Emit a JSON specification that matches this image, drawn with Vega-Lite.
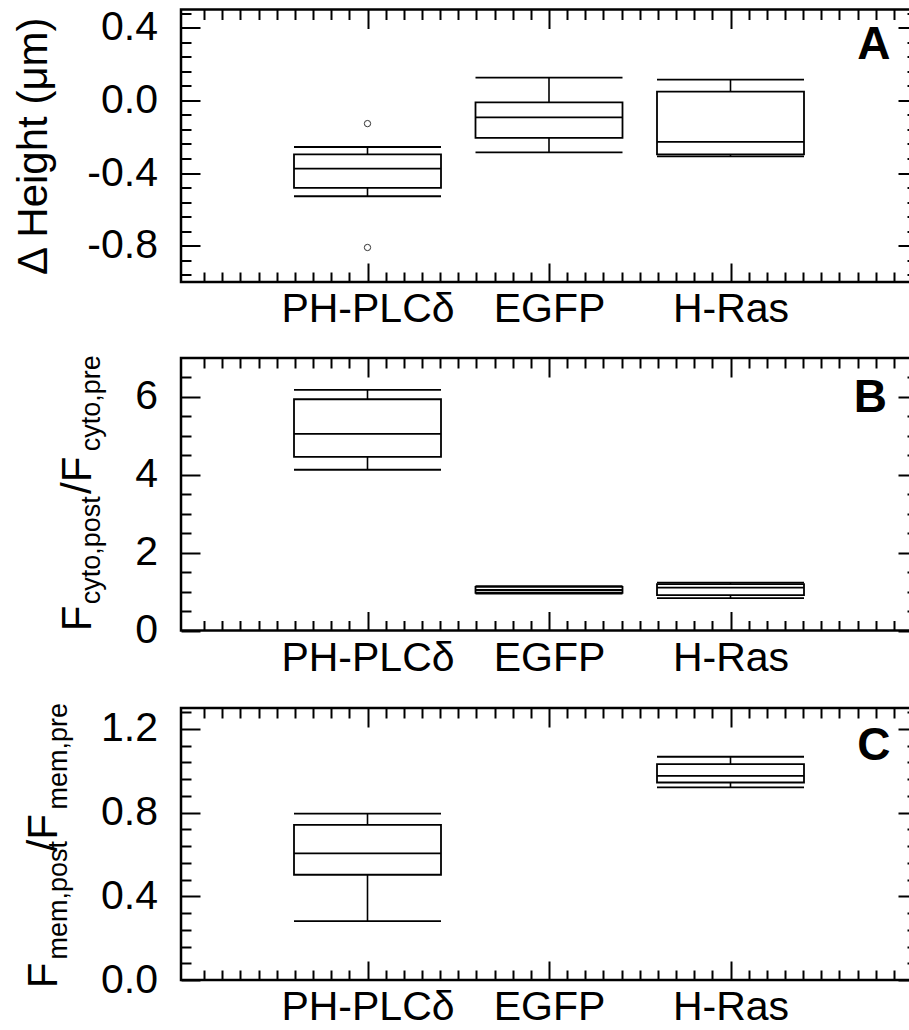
{
  "$schema": "https://vega.github.io/schema/vega-lite/v6.json",
  "background": "white",
  "padding": {"left": 10, "top": -9.5, "right": -7, "bottom": 0},
  "spacing": 12.5,
  "datasets": {
    "boxes": [
      {"panel": "A", "group": 1, "name": "PH-PLCδ", "lo": -0.528, "q1": -0.482, "med": -0.376, "q3": -0.297, "hi": -0.257},
      {"panel": "A", "group": 2, "name": "EGFP", "lo": -0.286, "q1": -0.207, "med": -0.094, "q3": -0.011, "hi": 0.125},
      {"panel": "A", "group": 3, "name": "H-Ras", "lo": -0.308, "q1": -0.297, "med": -0.229, "q3": 0.048, "hi": 0.114},
      {"panel": "B", "group": 1, "name": "PH-PLCδ", "lo": 4.13, "q1": 4.46, "med": 5.05, "q3": 5.94, "hi": 6.18},
      {"panel": "B", "group": 2, "name": "EGFP", "lo": 0.95, "q1": 0.97, "med": 1.04, "q3": 1.12, "hi": 1.14},
      {"panel": "B", "group": 3, "name": "H-Ras", "lo": 0.83, "q1": 0.91, "med": 1.1, "q3": 1.19, "hi": 1.23},
      {"panel": "C", "group": 1, "name": "PH-PLCδ", "lo": 0.281, "q1": 0.503, "med": 0.605, "q3": 0.741, "hi": 0.795},
      {"panel": "C", "group": 3, "name": "H-Ras", "lo": 0.921, "q1": 0.944, "med": 0.976, "q3": 1.032, "hi": 1.067}
    ],
    "outliers": [
      {"panel": "A", "group": 1, "value": -0.128},
      {"panel": "A", "group": 1, "value": -0.81}
    ]
  },
  "vconcat": [
    {
      "width": 736, "height": 272.5,
      "layer": [
        {
          "data": {"name": "boxes"}, "transform": [{"filter": "datum.panel === 'A'"}],
          "mark": {"type": "rule", "color": "black", "strokeWidth": 1.6},
          "encoding": {
            "x": {"field": "group", "type": "quantitative", "scale": {"domain": [0, 4], "nice": false, "zero": false},
              "axis": {"orient": "bottom", "values": [0.1,0.2,0.3,0.4,0.5,0.6,0.7,0.8,0.9,1,1.1,1.2,1.3,1.4,1.5,1.6,1.7,1.8,1.9,2,2.1,2.2,2.3,2.4,2.5,2.6,2.7,2.8,2.9,3,3.1,3.2,3.3,3.4,3.5,3.6,3.7,3.8,3.9],
                "tickSize": {"condition": {"test": "abs(datum.value - round(datum.value)) < 0.001", "value": -19}, "value": -10},
                "labelExpr": "datum.value == 1 ? 'PH-PLCδ' : datum.value == 2 ? 'EGFP' : datum.value == 3 ? 'H-Ras' : ''",
                "labelPadding": 26.5, "labelAngle": 0, "title": null}},
            "y": {"field": "lo", "type": "quantitative", "scale": {"domain": [-1, 0.5], "nice": false, "zero": false},
              "axis": {"orient": "left", "values": [-0.96,-0.88,-0.8,-0.72,-0.64,-0.56,-0.48,-0.4,-0.32,-0.24,-0.16,-0.08,0,0.08,0.16,0.24,0.32,0.4,0.48],
                "tickSize": {"condition": {"test": "abs(datum.value/0.4 - round(datum.value/0.4)) < 0.001", "value": -19}, "value": -10},
                "labelExpr": "abs(datum.value/0.4 - round(datum.value/0.4)) < 0.001 ? (datum.value < -0.001 ? '-' : '') + format(abs(datum.value), '.1f') : ''",
                "labelPadding": 42.5,
                "title": "Δ Height (μm)", "titleFontSize": 42, "titleAngle": 270, "titleX": -135, "titleBaseline": "alphabetic", "titleAlign": "center"}},
            "y2": {"field": "hi"}
          }
        },
        {
          "data": {"name": "boxes"}, "transform": [{"filter": "datum.panel === 'A'"}],
          "mark": {"type": "bar", "orient": "vertical", "size": 147, "fill": "white", "stroke": "black", "strokeWidth": 1.8},
          "encoding": {
            "x": {"field": "group", "type": "quantitative", "scale": {"domain": [0, 4], "nice": false, "zero": false},
              "axis": {"orient": "top", "values": [0.1,0.2,0.3,0.4,0.5,0.6,0.7,0.8,0.9,1,1.1,1.2,1.3,1.4,1.5,1.6,1.7,1.8,1.9,2,2.1,2.2,2.3,2.4,2.5,2.6,2.7,2.8,2.9,3,3.1,3.2,3.3,3.4,3.5,3.6,3.7,3.8,3.9],
                "tickSize": {"condition": {"test": "abs(datum.value - round(datum.value)) < 0.001", "value": -19}, "value": -10},
                "labels": false, "title": null}},
            "y": {"field": "q1", "type": "quantitative", "scale": {"domain": [-1, 0.5], "nice": false, "zero": false},
              "axis": {"orient": "right", "values": [-0.96,-0.88,-0.8,-0.72,-0.64,-0.56,-0.48,-0.4,-0.32,-0.24,-0.16,-0.08,0,0.08,0.16,0.24,0.32,0.4,0.48],
                "tickSize": {"condition": {"test": "abs(datum.value/0.4 - round(datum.value/0.4)) < 0.001", "value": -19}, "value": -10},
                "labels": false, "title": null}},
            "y2": {"field": "q3"}
          }
        },
        {
          "data": {"name": "boxes"}, "transform": [{"filter": "datum.panel === 'A'"}],
          "mark": {"type": "tick", "orient": "horizontal", "size": 147, "thickness": 1.8, "color": "black", "opacity": 1},
          "encoding": {
            "x": {"field": "group", "type": "quantitative", "scale": {"domain": [0, 4], "nice": false, "zero": false}, "axis": null},
            "y": {"field": "lo", "type": "quantitative", "scale": {"domain": [-1, 0.5], "nice": false, "zero": false}, "axis": null}
          }
        },
        {
          "data": {"name": "boxes"}, "transform": [{"filter": "datum.panel === 'A'"}],
          "mark": {"type": "tick", "orient": "horizontal", "size": 147, "thickness": 1.8, "color": "black", "opacity": 1},
          "encoding": {
            "x": {"field": "group", "type": "quantitative", "scale": {"domain": [0, 4], "nice": false, "zero": false}, "axis": null},
            "y": {"field": "hi", "type": "quantitative", "scale": {"domain": [-1, 0.5], "nice": false, "zero": false}, "axis": null}
          }
        },
        {
          "data": {"name": "boxes"}, "transform": [{"filter": "datum.panel === 'A'"}],
          "mark": {"type": "tick", "orient": "horizontal", "size": 147, "thickness": 1.8, "color": "black", "opacity": 1},
          "encoding": {
            "x": {"field": "group", "type": "quantitative", "scale": {"domain": [0, 4], "nice": false, "zero": false}, "axis": null},
            "y": {"field": "med", "type": "quantitative", "scale": {"domain": [-1, 0.5], "nice": false, "zero": false}, "axis": null}
          }
        },
        {
          "data": {"name": "outliers"}, "transform": [{"filter": "datum.panel === 'A'"}],
          "mark": {"type": "point", "shape": "circle", "size": 40, "filled": false, "stroke": "#333333", "strokeWidth": 1, "opacity": 1},
          "encoding": {
            "x": {"field": "group", "type": "quantitative", "scale": {"domain": [0, 4], "nice": false, "zero": false}, "axis": null},
            "y": {"field": "value", "type": "quantitative", "scale": {"domain": [-1, 0.5], "nice": false, "zero": false}, "axis": null}
          }
        },
        {
          "data": {"values": [{"letter": "A"}]},
          "mark": {"type": "text", "font": "Liberation Sans", "fontSize": 46, "fontWeight": "bold", "align": "center", "baseline": "middle", "color": "black"},
          "encoding": {
            "x": {"datum": 3.79, "type": "quantitative", "scale": {"domain": [0, 4], "nice": false, "zero": false}, "axis": null},
            "y": {"datum": 0.303, "type": "quantitative", "scale": {"domain": [-1, 0.5], "nice": false, "zero": false}, "axis": null},
            "text": {"field": "letter"}
          }
        }
      ],
      "resolve": {"axis": {"x": "independent", "y": "independent"}}
    },
    {
      "spacing": 0,
      "vconcat": [
        {
          "width": 736, "height": 272.5,
          "layer": [
            {
              "data": {"name": "boxes"}, "transform": [{"filter": "datum.panel === 'B'"}],
              "mark": {"type": "rule", "color": "black", "strokeWidth": 1.6},
              "encoding": {
                "x": {"field": "group", "type": "quantitative", "scale": {"domain": [0, 4], "nice": false, "zero": false},
                  "axis": {"orient": "bottom", "values": [0.1,0.2,0.3,0.4,0.5,0.6,0.7,0.8,0.9,1,1.1,1.2,1.3,1.4,1.5,1.6,1.7,1.8,1.9,2,2.1,2.2,2.3,2.4,2.5,2.6,2.7,2.8,2.9,3,3.1,3.2,3.3,3.4,3.5,3.6,3.7,3.8,3.9],
                    "tickSize": {"condition": {"test": "abs(datum.value - round(datum.value)) < 0.001", "value": -19}, "value": -10},
                    "labelExpr": "datum.value == 1 ? 'PH-PLCδ' : datum.value == 2 ? 'EGFP' : datum.value == 3 ? 'H-Ras' : ''",
                    "labelPadding": 26.5, "labelAngle": 0,
                    "title": "/F", "titleFontSize": 42, "titleAngle": 270, "titleX": -90.5, "titleY": -137, "titleBaseline": "alphabetic", "titleAlign": "left"}},
                "y": {"field": "lo", "type": "quantitative", "scale": {"domain": [0, 7], "nice": false, "zero": false},
                  "axis": {"orient": "left", "values": [0,0.5,1,1.5,2,2.5,3,3.5,4,4.5,5,5.5,6,6.5],
                    "tickSize": {"condition": {"test": "abs(datum.value/2 - round(datum.value/2)) < 0.001", "value": -19}, "value": -10},
                    "labelExpr": "abs(datum.value/2 - round(datum.value/2)) < 0.001 ? format(datum.value, 'd') : ''",
                    "labelPadding": 42.5,
                    "title": "F", "titleFontSize": 42, "titleAngle": 270, "titleX": -90.5, "titleY": 272.7, "titleBaseline": "alphabetic", "titleAlign": "left"}},
                "y2": {"field": "hi"}
              }
            },
            {
              "data": {"name": "boxes"}, "transform": [{"filter": "datum.panel === 'B'"}],
              "mark": {"type": "bar", "orient": "vertical", "size": 147, "fill": "white", "stroke": "black", "strokeWidth": 1.8},
              "encoding": {
                "x": {"field": "group", "type": "quantitative", "scale": {"domain": [0, 4], "nice": false, "zero": false},
                  "axis": {"orient": "top", "values": [0.1,0.2,0.3,0.4,0.5,0.6,0.7,0.8,0.9,1,1.1,1.2,1.3,1.4,1.5,1.6,1.7,1.8,1.9,2,2.1,2.2,2.3,2.4,2.5,2.6,2.7,2.8,2.9,3,3.1,3.2,3.3,3.4,3.5,3.6,3.7,3.8,3.9],
                    "tickSize": {"condition": {"test": "abs(datum.value - round(datum.value)) < 0.001", "value": -19}, "value": -10},
                    "labels": false,
                    "title": "cyto,pre", "titleFontSize": 27, "titleAngle": 270, "titleX": -81.5, "titleY": 92.7, "titleBaseline": "alphabetic", "titleAlign": "left"}},
                "y": {"field": "q1", "type": "quantitative", "scale": {"domain": [0, 7], "nice": false, "zero": false},
                  "axis": {"orient": "right", "values": [0,0.5,1,1.5,2,2.5,3,3.5,4,4.5,5,5.5,6,6.5],
                    "tickSize": {"condition": {"test": "abs(datum.value/2 - round(datum.value/2)) < 0.001", "value": -19}, "value": -10},
                    "labels": false,
                    "title": "cyto,post", "titleFontSize": 27, "titleAngle": 270, "titleX": -817.5, "titleY": 245.7, "titleBaseline": "alphabetic", "titleAlign": "left"}},
                "y2": {"field": "q3"}
              }
            },
            {
              "data": {"name": "boxes"}, "transform": [{"filter": "datum.panel === 'B'"}],
              "mark": {"type": "tick", "orient": "horizontal", "size": 147, "thickness": 1.8, "color": "black", "opacity": 1},
              "encoding": {
                "x": {"field": "group", "type": "quantitative", "scale": {"domain": [0, 4], "nice": false, "zero": false}, "axis": null},
                "y": {"field": "lo", "type": "quantitative", "scale": {"domain": [0, 7], "nice": false, "zero": false}, "axis": null}
              }
            },
            {
              "data": {"name": "boxes"}, "transform": [{"filter": "datum.panel === 'B'"}],
              "mark": {"type": "tick", "orient": "horizontal", "size": 147, "thickness": 1.8, "color": "black", "opacity": 1},
              "encoding": {
                "x": {"field": "group", "type": "quantitative", "scale": {"domain": [0, 4], "nice": false, "zero": false}, "axis": null},
                "y": {"field": "hi", "type": "quantitative", "scale": {"domain": [0, 7], "nice": false, "zero": false}, "axis": null}
              }
            },
            {
              "data": {"name": "boxes"}, "transform": [{"filter": "datum.panel === 'B'"}],
              "mark": {"type": "tick", "orient": "horizontal", "size": 147, "thickness": 1.8, "color": "black", "opacity": 1},
              "encoding": {
                "x": {"field": "group", "type": "quantitative", "scale": {"domain": [0, 4], "nice": false, "zero": false}, "axis": null},
                "y": {"field": "med", "type": "quantitative", "scale": {"domain": [0, 7], "nice": false, "zero": false}, "axis": null}
              }
            },
            {
              "data": {"values": [{"letter": "B"}]},
              "mark": {"type": "text", "font": "Liberation Sans", "fontSize": 46, "fontWeight": "bold", "align": "center", "baseline": "middle", "color": "black"},
              "encoding": {
                "x": {"datum": 3.77, "type": "quantitative", "scale": {"domain": [0, 4], "nice": false, "zero": false}, "axis": null},
                "y": {"datum": 5.97, "type": "quantitative", "scale": {"domain": [0, 7], "nice": false, "zero": false}, "axis": null},
                "text": {"field": "letter"}
              }
            }
          ],
          "resolve": {"axis": {"x": "independent", "y": "independent"}}
        },
        {
          "width": 736, "height": 272,
          "layer": [
            {
              "data": {"name": "boxes"}, "transform": [{"filter": "datum.panel === 'C'"}],
              "mark": {"type": "rule", "color": "black", "strokeWidth": 1.6},
              "encoding": {
                "x": {"field": "group", "type": "quantitative", "scale": {"domain": [0, 4], "nice": false, "zero": false},
                  "axis": {"orient": "bottom", "values": [0.1,0.2,0.3,0.4,0.5,0.6,0.7,0.8,0.9,1,1.1,1.2,1.3,1.4,1.5,1.6,1.7,1.8,1.9,2,2.1,2.2,2.3,2.4,2.5,2.6,2.7,2.8,2.9,3,3.1,3.2,3.3,3.4,3.5,3.6,3.7,3.8,3.9],
                    "tickSize": {"condition": {"test": "abs(datum.value - round(datum.value)) < 0.001", "value": -19}, "value": -10},
                    "labelExpr": "datum.value == 1 ? 'PH-PLCδ' : datum.value == 2 ? 'EGFP' : datum.value == 3 ? 'H-Ras' : ''",
                    "labelPadding": 26.5, "labelAngle": 0,
                    "title": "/F", "titleFontSize": 42, "titleAngle": 270, "titleX": -125, "titleY": -129, "titleBaseline": "alphabetic", "titleAlign": "left"}},
                "y": {"field": "lo", "type": "quantitative", "scale": {"domain": [0, 1.3], "nice": false, "zero": false},
                  "axis": {"orient": "left", "values": [0,0.08,0.16,0.24,0.32,0.4,0.48,0.56,0.64,0.72,0.8,0.88,0.96,1.04,1.12,1.2,1.28],
                    "tickSize": {"condition": {"test": "abs(datum.value/0.4 - round(datum.value/0.4)) < 0.001", "value": -19}, "value": -10},
                    "labelExpr": "abs(datum.value/0.4 - round(datum.value/0.4)) < 0.001 ? format(datum.value, '.1f') : ''",
                    "labelPadding": 42.5,
                    "title": "F", "titleFontSize": 42, "titleAngle": 270, "titleX": -125, "titleY": 279.7, "titleBaseline": "alphabetic", "titleAlign": "left"}},
                "y2": {"field": "hi"}
              }
            },
            {
              "data": {"name": "boxes"}, "transform": [{"filter": "datum.panel === 'C'"}],
              "mark": {"type": "bar", "orient": "vertical", "size": 147, "fill": "white", "stroke": "black", "strokeWidth": 1.8},
              "encoding": {
                "x": {"field": "group", "type": "quantitative", "scale": {"domain": [0, 4], "nice": false, "zero": false},
                  "axis": {"orient": "top", "values": [0.1,0.2,0.3,0.4,0.5,0.6,0.7,0.8,0.9,1,1.1,1.2,1.3,1.4,1.5,1.6,1.7,1.8,1.9,2,2.1,2.2,2.3,2.4,2.5,2.6,2.7,2.8,2.9,3,3.1,3.2,3.3,3.4,3.5,3.6,3.7,3.8,3.9],
                    "tickSize": {"condition": {"test": "abs(datum.value - round(datum.value)) < 0.001", "value": -19}, "value": -10},
                    "labels": false,
                    "title": "mem,pre", "titleFontSize": 27, "titleAngle": 270, "titleX": -114.5, "titleY": 101, "titleBaseline": "alphabetic", "titleAlign": "left"}},
                "y": {"field": "q1", "type": "quantitative", "scale": {"domain": [0, 1.3], "nice": false, "zero": false},
                  "axis": {"orient": "right", "values": [0,0.08,0.16,0.24,0.32,0.4,0.48,0.56,0.64,0.72,0.8,0.88,0.96,1.04,1.12,1.2,1.28],
                    "tickSize": {"condition": {"test": "abs(datum.value/0.4 - round(datum.value/0.4)) < 0.001", "value": -19}, "value": -10},
                    "labels": false,
                    "title": "mem,post", "titleFontSize": 27, "titleAngle": 270, "titleX": -850.5, "titleY": 251, "titleBaseline": "alphabetic", "titleAlign": "left"}},
                "y2": {"field": "q3"}
              }
            },
            {
              "data": {"name": "boxes"}, "transform": [{"filter": "datum.panel === 'C'"}],
              "mark": {"type": "tick", "orient": "horizontal", "size": 147, "thickness": 1.8, "color": "black", "opacity": 1},
              "encoding": {
                "x": {"field": "group", "type": "quantitative", "scale": {"domain": [0, 4], "nice": false, "zero": false}, "axis": null},
                "y": {"field": "lo", "type": "quantitative", "scale": {"domain": [0, 1.3], "nice": false, "zero": false}, "axis": null}
              }
            },
            {
              "data": {"name": "boxes"}, "transform": [{"filter": "datum.panel === 'C'"}],
              "mark": {"type": "tick", "orient": "horizontal", "size": 147, "thickness": 1.8, "color": "black", "opacity": 1},
              "encoding": {
                "x": {"field": "group", "type": "quantitative", "scale": {"domain": [0, 4], "nice": false, "zero": false}, "axis": null},
                "y": {"field": "hi", "type": "quantitative", "scale": {"domain": [0, 1.3], "nice": false, "zero": false}, "axis": null}
              }
            },
            {
              "data": {"name": "boxes"}, "transform": [{"filter": "datum.panel === 'C'"}],
              "mark": {"type": "tick", "orient": "horizontal", "size": 147, "thickness": 1.8, "color": "black", "opacity": 1},
              "encoding": {
                "x": {"field": "group", "type": "quantitative", "scale": {"domain": [0, 4], "nice": false, "zero": false}, "axis": null},
                "y": {"field": "med", "type": "quantitative", "scale": {"domain": [0, 1.3], "nice": false, "zero": false}, "axis": null}
              }
            },
            {
              "data": {"values": [{"letter": "C"}]},
              "mark": {"type": "text", "font": "Liberation Sans", "fontSize": 46, "fontWeight": "bold", "align": "center", "baseline": "middle", "color": "black"},
              "encoding": {
                "x": {"datum": 3.79, "type": "quantitative", "scale": {"domain": [0, 4], "nice": false, "zero": false}, "axis": null},
                "y": {"datum": 1.118, "type": "quantitative", "scale": {"domain": [0, 1.3], "nice": false, "zero": false}, "axis": null},
                "text": {"field": "letter"}
              }
            }
          ],
          "resolve": {"axis": {"x": "independent", "y": "independent"}}
        }
      ]
    }
  ],
  "config": {
    "font": "Liberation Sans",
    "view": {"stroke": "black", "strokeWidth": 2.5},
    "axis": {
      "domain": false, "grid": false, "ticks": true,
      "tickColor": "black", "tickWidth": 2,
      "labelFont": "Liberation Sans", "labelFontSize": 41, "labelColor": "black",
      "labelOverlap": false, "labelFlush": false, "labelBound": false,
      "titleFont": "Liberation Sans", "titleColor": "black", "titleFontWeight": "normal"
    }
  }
}
